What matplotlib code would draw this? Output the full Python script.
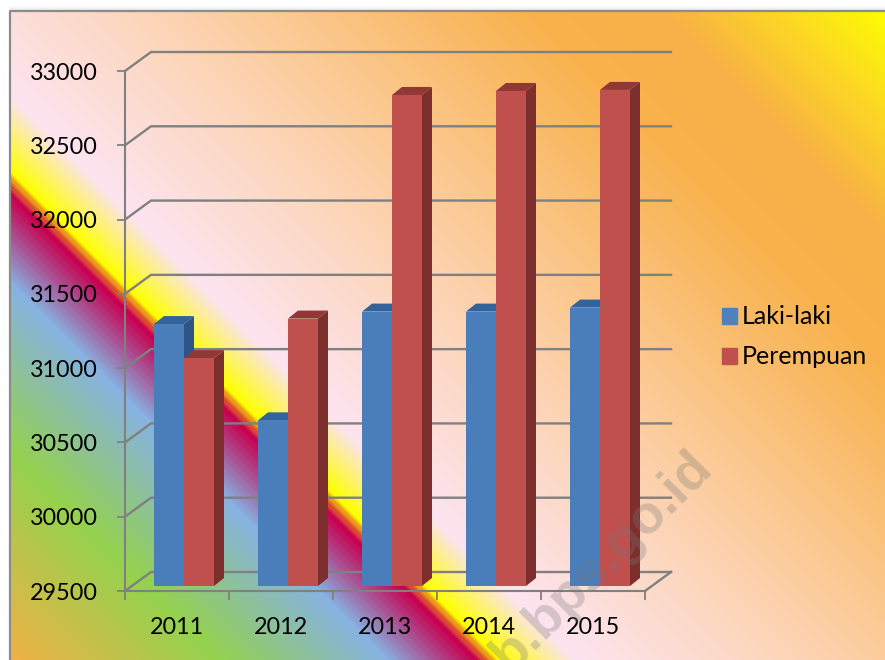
import numpy as np
import matplotlib
matplotlib.use('Agg')
import matplotlib.pyplot as plt
from matplotlib.patches import Patch

# data
tahun = ['2011', '2012', '2013', '2014', '2015']
laki = [31263, 30615, 31347, 31347, 31374]
perempuan = [31034, 31300, 32805, 32832, 32839]
y_ticks = [29500, 30000, 30500, 31000, 31500, 32000, 32500, 33000]

plt.rcParams['font.family'] = ['Lato', 'DejaVu Sans']

W, H = 885, 660
fig = plt.figure(figsize=(W / 100, H / 100), dpi=100, facecolor='white')

# background gradient, runs along x - y in pixels
s_stop = [-660, -440, -272, -184, -170, -160, -85, 110, 520, 650, 880]
c_stop = np.array([
    [245, 175, 70], [148, 210, 78], [135, 178, 226], [200, 0, 80], [232, 130, 30],
    [255, 255, 0], [252, 228, 240], [253, 215, 190], [248, 178, 76], [248, 176, 72], [255, 255, 0]]) / 255

xx, yy = np.meshgrid(np.arange(W), np.arange(H))
s = (xx - yy).astype(float)
band = (s > -272) & (s < -85)
s[band] = np.round(s[band] / 4) * 4  # stepped look of the fill
img = np.dstack([np.interp(s, s_stop, c_stop[:, i]) for i in range(3)])
img[:, :10] = 1
img[:11, :] = 1
for k, g in enumerate([0.985, 0.97, 0.95, 0.93, 0.91]):
    img[6 + k, 10:] = g

bg = fig.add_axes([0, 0, 1, 1])
bg.imshow(img, extent=(0, W, H, 0), aspect='auto', interpolation='nearest')
bg.plot([10, 10, W], [H, 11, 11], color='#8c8c8c', lw=1.6)
bg.set_xlim(0, W)
bg.set_ylim(H, 0)
bg.axis('off')

# plot area, 125..645 by 71..591 px
ax = fig.add_axes([125 / W, 1 - 591 / H, 520 / W, 520 / H])
ax.patch.set_alpha(0)
ax.set_xlim(0, 5)
ax.set_ylim(29500, 33000)
px_x = 5 / 520
px_y = 3500 / 520
abu = '#808080'

for sp in ['top', 'right']:
    ax.spines[sp].set_visible(False)
for sp in ['left', 'bottom']:
    ax.spines[sp].set_color(abu)
    ax.spines[sp].set_linewidth(1.5)

# back wall lines
dx, dy = 26 * px_x, 19 * px_y
for v in y_ticks:
    ax.plot([0, dx, 5 + dx], [v, v + dy, v + dy], color=abu, lw=1.7, clip_on=False, zorder=1)
ax.plot([5, 5 + dx], [29500, 29500 + dy], color=abu, lw=1.7, clip_on=False, zorder=1)

ax.set_yticks(y_ticks)
ax.set_xticks(range(6))
ax.set_xticklabels([])
ax.set_xticks(np.arange(5) + 0.5, labels=tahun, minor=True)
ax.tick_params(axis='y', length=6, width=1.3, color=abu, labelsize=16.8, pad=13.5)
ax.tick_params(axis='x', which='major', length=6.5, width=1.3, color=abu)
ax.tick_params(axis='x', which='minor', length=0, labelsize=16.8, pad=19)

# bars, with a fake 3d depth
lebar = 30 * px_x
x0 = np.arange(5) + 0.5 + 7 * px_x
naik = 5 * px_y
d_x, d_y = 10 * px_x, 8 * px_y


def bar3d(xs, vals, col, col_side, col_top, z):
    base = 29500 + naik
    for x, v in zip(xs, vals):
        top = v + naik
        left, right = x - lebar / 2, x + lebar / 2
        ax.fill([right, right + d_x, right + d_x, right], [base, base + d_y, top + d_y, top],
                color=col_side, lw=0, zorder=z, clip_on=False)
        ax.fill([left, left + d_x, right + d_x, right], [top, top + d_y, top + d_y, top],
                color=col_top, lw=0, zorder=z, clip_on=False)
    ax.bar(xs, np.array(vals) - 29500, lebar, bottom=base, color=col, zorder=z + 1, clip_on=False)


bar3d(x0 - lebar / 2, laki, '#4a7ebb', '#2c5588', '#33639c', 3)
bar3d(x0 + lebar / 2, perempuan, '#c0504d', '#7d2f2d', '#8f3836', 5)

# legend
fig.legend(handles=[Patch(color='#4f81bd', label='Laki-laki'), Patch(color='#c0504d', label='Perempuan')],
           loc='upper left', bbox_to_anchor=(714 / W, 1 - 298 / H), frameon=False, fontsize=18,
           handlelength=0.6, handleheight=0.6, handletextpad=0.2, labelspacing=0.68,
           borderpad=0.3, borderaxespad=0)

# watermark
fig.text(686 / W, 1 - 441 / H, 'b.bps.go.id', rotation=45, rotation_mode='anchor', ha='right', va='top',
         family='Liberation Sans', weight='bold', fontsize=39, color='#777777', alpha=0.3, zorder=20)

fig.savefig('out.png', dpi=100)
